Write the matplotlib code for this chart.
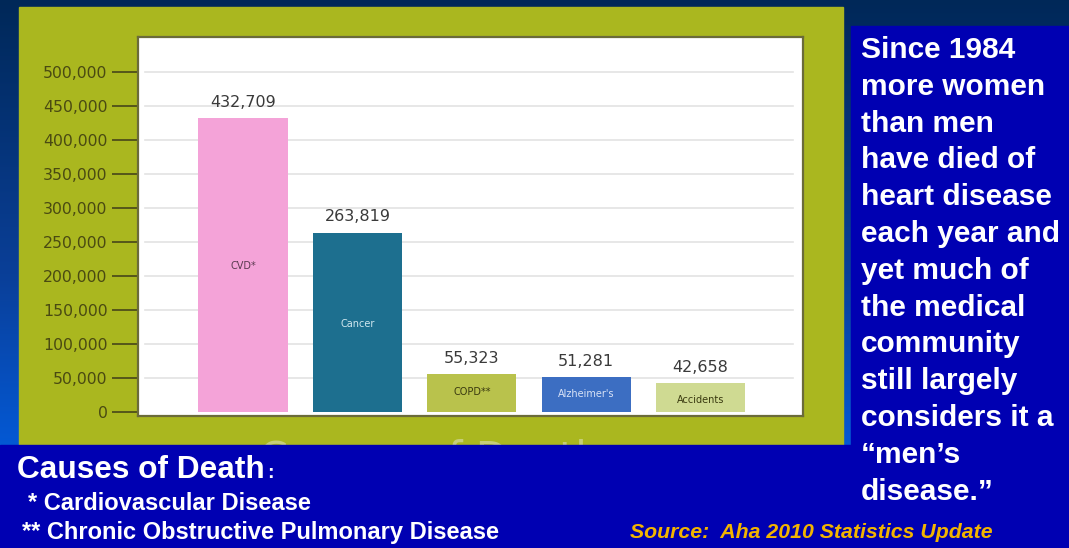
import numpy as np
import matplotlib as mpl
from matplotlib import pyplot as plt
from matplotlib.patches import Rectangle
from matplotlib.ticker import FuncFormatter

causes  = ['CVD*', 'Cancer', 'COPD**', "Alzheimer's", 'Accidents']
deaths  = [432709, 263819, 55323, 51281, 42658]
bar_colors   = ['#f4a3d8', '#1d6f8f', '#b9c24c', '#3c6ec2', '#cfda92']
inner_colors = ['#5a3a50', '#cfe6ee', '#3a3a10', '#d8e2f6', '#3a3a10']
y_ticks = np.arange(0, 500001, 50000)

side_lines = ['Since 1984', 'more women', 'than men', 'have died of',
              'heart disease', 'each year and', 'yet much of',
              'the medical', 'community', 'still largely',
              'considers it a', '\u201cmen\u2019s', 'disease.\u201d']
footnotes = ['* Cardiovascular Disease', '** Chronic Obstructive Pulmonary Disease']
source = 'Source:  Aha 2010 Statistics Update'

W, H = 1069, 548
fig = plt.figure(figsize=(W / 100, H / 100), dpi=100)

# backdrop: vertical navy-to-blue gradient over the whole slide
bg = fig.add_axes([0, 0, 1, 1])
bg.set_xlim(0, W)
bg.set_ylim(H, 0)
bg.axis('off')
grad = np.linspace(0, 1, 256).reshape(-1, 1)
cmap = mpl.colors.LinearSegmentedColormap.from_list('slide', ['#002858', '#0a3f98', '#0068f8'])
bg.imshow(grad, cmap=cmap, extent=[0, W, H, 0], aspect='auto', zorder=0)

# olive panel behind the chart, with the cut-off caption peeking at its bottom edge
panel = Rectangle((19, 7), 824, 438, color='#aab71f', zorder=1)
bg.add_patch(panel)
caption = bg.text(430, 438, 'Causes of Death', fontsize=30, color='#c6ce78',
                  ha='center', va='top', zorder=2)
caption.set_clip_path(panel)

# solid blue text boxes
blue = '#0000b2'
bg.add_patch(Rectangle((0, 445), W, H - 445, color=blue, zorder=3))
bg.add_patch(Rectangle((851, 26), W - 851, H - 26, color=blue, zorder=3))

for i, line in enumerate(side_lines):
    bg.text(861, 50 + i * 36.8, line, fontsize=21.5, fontweight='bold', color='white',
            family='Liberation Sans', va='center', ha='left', zorder=4)

bg.text(17, 470, 'Causes of Death', fontsize=22.8, fontweight='bold', color='white',
        family='Liberation Sans', va='center', ha='left', zorder=4)
bg.text(267, 474, ':', fontsize=14, fontweight='bold', color='white',
        family='Liberation Sans', va='center', ha='left', zorder=4)
bg.text(28, 503, footnotes[0], fontsize=17, fontweight='bold', color='white',
        family='Liberation Sans', va='center', ha='left', zorder=4)
bg.text(22, 532, footnotes[1], fontsize=17, fontweight='bold', color='white',
        family='Liberation Sans', va='center', ha='left', zorder=4)
bg.text(630, 532, source, fontsize=15.3, fontweight='bold', style='italic', color='#f2b400',
        family='Liberation Sans', va='center', ha='left', zorder=4)

# bar chart
ax = fig.add_axes([138 / W, 1 - 416 / H, 665 / W, 379 / H])
ax.set_facecolor('white')
x = np.arange(len(causes))
ax.set_xlim(-0.918, 4.896)
ax.set_ylim(-5882, 551470)

for v in y_ticks[1:]:
    ax.axhline(v, xmin=0.01, xmax=0.985, color='#e3e3e3', lw=1.2, zorder=1)

bars = ax.bar(x, deaths, width=0.78, color=bar_colors, zorder=2)

label_y = [215000, 130000, 30000, 27000, 18000]
for xi, val, name, c, ly in zip(x, deaths, causes, inner_colors, label_y):
    ax.text(xi, val + 12000, '{:,}'.format(val), ha='center', va='bottom',
            fontsize=11.5, color='#3a3a3a', zorder=3)
    ax.text(xi, ly, name, ha='center', va='center', fontsize=7, color=c, zorder=3)

ax.set_yticks(y_ticks)
ax.yaxis.set_major_formatter(FuncFormatter(lambda v, p: '{:,}'.format(int(v))))
ax.set_xticks([])
ax.tick_params(axis='y', length=19, width=1.4, color='#55561a', labelcolor='#4a4a12',
               labelsize=11.3, pad=3)
for s in ax.spines.values():
    s.set_color('#6b6b3a')
    s.set_linewidth(1.6)

fig.savefig('out.png', dpi=100)
